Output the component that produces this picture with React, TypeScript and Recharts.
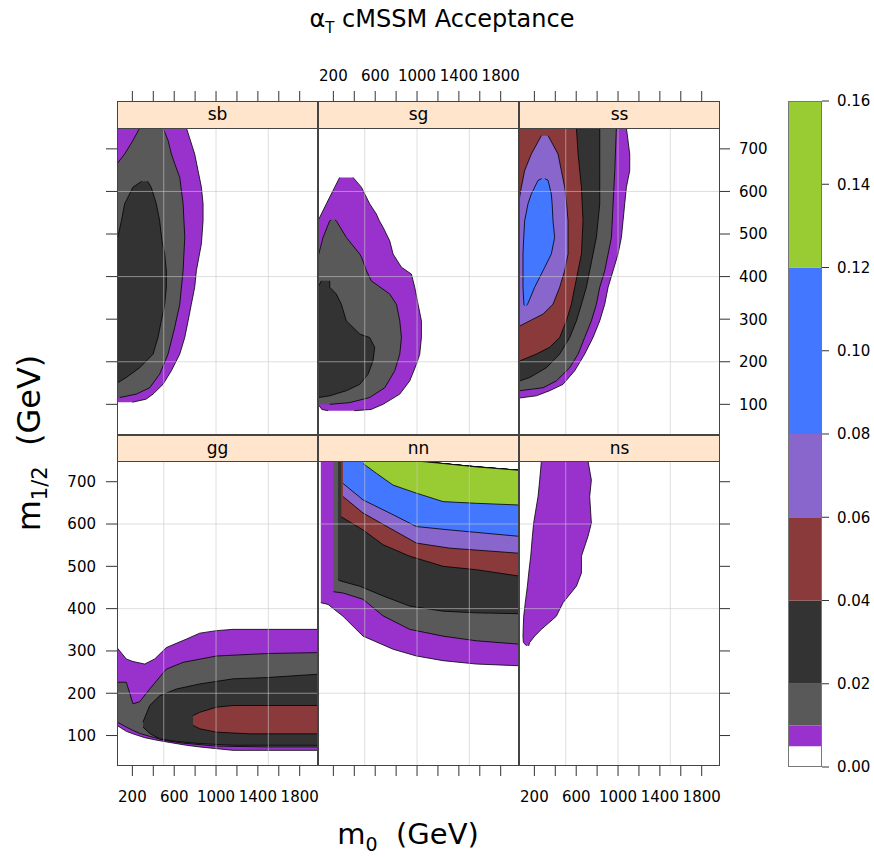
import React from "react";
import {
  ComposedChart,
  Area,
  XAxis,
  YAxis,
  ReferenceLine,
  BarChart,
  Bar,
} from "recharts";

const FONT = "'DejaVu Sans', sans-serif";

// colour key: level breaks and the fill used between them
const levelBreaks = [0, 0.005, 0.01, 0.02, 0.04, 0.06, 0.08, 0.12, 0.16];
const levelColors = ["#ffffff", "#9932cc", "#595959", "#333333", "#8a3a3a", "#8866cc", "#4477ff", "#99cc33"];
const levelKeys = ["L005", "L01", "L02", "L04", "L06", "L08", "L12"];
const keyTicks = [0, 0.02, 0.04, 0.06, 0.08, 0.1, 0.12, 0.14, 0.16];

// axes (m0 and m1/2 in GeV)
const xTicks = [200, 400, 600, 800, 1000, 1200, 1400, 1600, 1800];
const xLabelled = [200, 600, 1000, 1400, 1800];
const yTicks = [100, 200, 300, 400, 500, 600, 700];
const gridX = [500, 1000, 1500];
const gridY = [200, 400, 600];
const xDomain = [53, 1975];
const yDomain = [28, 749];

// contour bands.
// "vertical" panels: [m1/2, m0 low, m0 high]; "horizontal" panels: [m0, m1/2 low, m1/2 high]
const sbL005 = [[105, 53, 200], [112, 53, 330], [124, 53, 398], [147, 53, 493], [179, 53, 573], [218, 53, 653], [257, 53, 701], [296, 53, 733], [335, 53, 764], [375, 53, 796], [414, 53, 812], [477, 53, 860], [531, 53, 876], [571, 53, 876], [610, 53, 860], [649, 53, 828], [688, 53, 796], [749, 53, 717]];
const sbL01 = [[116, 53, 79], [124, 53, 238], [139, 53, 366], [171, 53, 461], [218, 53, 541], [281, 53, 605], [335, 53, 653], [414, 53, 685], [492, 53, 701], [571, 53, 685], [633, 53, 653], [665, 53, 605], [688, 126, 573], [720, 206, 541], [749, 270, 493]];
const sbL02 = [[151, 53, 60], [163, 53, 142], [186, 53, 270], [218, 53, 398], [257, 53, 445], [296, 53, 477], [335, 53, 509], [375, 53, 525], [414, 53, 525], [453, 53, 509], [484, 53, 483], [531, 95, 461], [571, 126, 429], [610, 206, 380], [624, 290, 345]];

const sgL005 = [[85, 150, 400], [88, 90, 560], [100, 53, 675], [124, 53, 835], [155, 53, 930], [194, 53, 994], [218, 53, 1026], [257, 53, 1042], [296, 53, 1042], [335, 53, 1010], [375, 53, 978], [406, 53, 946], [422, 53, 851], [453, 53, 771], [484, 53, 739], [516, 53, 675], [531, 53, 640], [547, 85, 611], [571, 133, 547], [610, 213, 468], [633, 260, 388]];
const sgL01 = [[100, 53, 165], [104, 53, 356], [116, 53, 547], [139, 53, 691], [179, 53, 787], [218, 53, 835], [257, 53, 851], [296, 53, 835], [335, 53, 803], [359, 53, 739], [390, 53, 563], [414, 53, 516], [445, 53, 470], [453, 60, 452], [492, 101, 324], [531, 165, 228], [533, 180, 215]];
const sgL02 = [[116, 53, 60], [120, 53, 165], [132, 53, 324], [147, 53, 452], [171, 53, 532], [202, 53, 579], [234, 53, 595], [257, 53, 547], [265, 53, 452], [296, 53, 324], [335, 53, 276], [359, 53, 228], [375, 53, 165], [390, 85, 165]];

const ssL005 = [[115, 53, 60], [120, 53, 219], [132, 53, 346], [147, 53, 474], [179, 53, 586], [218, 53, 681], [257, 53, 761], [296, 53, 825], [335, 53, 873], [375, 53, 905], [414, 53, 953], [453, 53, 1000], [492, 53, 1032], [531, 53, 1048], [571, 53, 1064], [610, 53, 1080], [649, 53, 1112], [688, 53, 1112], [749, 53, 1080]];
const ssL01 = [[132, 53, 60], [139, 53, 283], [155, 53, 410], [186, 53, 538], [218, 53, 618], [257, 53, 681], [296, 53, 745], [335, 53, 793], [375, 53, 825], [414, 53, 873], [453, 53, 905], [492, 53, 937], [571, 53, 953], [649, 53, 969], [749, 53, 984]];
const ssL02 = [[155, 53, 60], [163, 53, 155], [186, 53, 315], [218, 53, 442], [257, 53, 538], [296, 53, 602], [335, 53, 650], [375, 53, 697], [414, 53, 729], [453, 53, 761], [492, 53, 793], [571, 53, 825], [649, 53, 825], [749, 53, 825]];
const ssL04 = [[202, 53, 60], [218, 53, 219], [234, 53, 346], [257, 53, 442], [296, 53, 506], [335, 53, 554], [375, 53, 586], [414, 53, 618], [453, 53, 650], [531, 53, 665], [610, 53, 650], [688, 53, 618], [749, 53, 602]];
const ssL06 = [[284, 53, 60], [296, 53, 155], [312, 53, 283], [335, 53, 378], [375, 53, 442], [414, 53, 490], [453, 53, 522], [531, 53, 522], [578, 53, 506], [610, 75, 490], [649, 107, 458], [688, 171, 426], [731, 267, 331]];
const ssL08 = [[332, 105, 125], [335, 100, 135], [375, 91, 203], [414, 91, 283], [453, 91, 362], [492, 98, 394], [531, 107, 378], [571, 139, 370], [594, 171, 362], [626, 235, 331], [630, 270, 300]];

const ggL005 = [[53, 124, 308], [142, 110, 281], [206, 104, 275], [318, 95, 269], [413, 90, 281], [525, 85, 308], [717, 77, 328], [844, 73, 342], [1004, 69, 348], [1163, 65, 351], [1500, 65, 351], [1975, 65, 351]];
const ggL01 = [[53, 132, 226], [142, 120, 226], [206, 112, 175], [270, 105, 180], [366, 98, 210], [525, 88, 257], [685, 82, 273], [1004, 75, 288], [1500, 73, 294], [1975, 73, 296]];
const ggL02 = [[302, 120, 132], [366, 105, 171], [461, 92, 194], [621, 86, 210], [844, 81, 222], [1163, 77, 234], [1482, 77, 237], [1975, 77, 245]];
const ggL04 = [[780, 124, 147], [844, 116, 155], [1004, 108, 167], [1163, 106, 171], [1323, 104, 171], [1975, 104, 171]];

const nnL005 = [[80, 414, 749], [149, 410, 749], [292, 382, 749], [484, 335, 749], [771, 304, 749], [994, 288, 749], [1249, 277, 743], [1568, 269, 735], [1975, 265, 727]];
const nnL01 = [[200, 440, 749], [292, 437, 749], [484, 422, 749], [675, 383, 749], [930, 351, 749], [1249, 335, 743], [1568, 324, 735], [1975, 316, 727]];
const nnL02 = [[244, 469, 749], [260, 466, 749], [452, 453, 749], [675, 430, 749], [930, 406, 749], [1249, 394, 743], [1568, 390, 735], [1975, 388, 727]];
const nnL04 = [[276, 617, 749], [484, 586, 749], [675, 551, 749], [930, 524, 749], [1249, 500, 743], [1568, 492, 735], [1975, 477, 727]];
const nnL06 = [[292, 665, 749], [484, 626, 749], [771, 586, 749], [994, 555, 749], [1313, 543, 741], [1975, 531, 727]];
const nnL08 = [[292, 696, 749], [484, 657, 749], [771, 622, 749], [994, 594, 749], [1313, 586, 741], [1975, 571, 727]];
const nnL12 = [[484, 743, 749], [611, 720, 749], [771, 692, 749], [994, 673, 749], [1249, 653, 743], [1568, 649, 735], [1975, 645, 727]];

const nsL005 = [[312, 125, 145], [320, 95, 155], [335, 91, 203], [351, 93, 267], [382, 98, 410], [414, 113, 474], [453, 133, 602], [484, 146, 650], [524, 165, 650], [571, 181, 713], [602, 193, 745], [665, 235, 729], [704, 251, 745], [749, 267, 713]];

type Levels = Record<string, number[][]>;
interface PanelDef {
  name: string;
  row: number;
  col: number;
  layout: "horizontal" | "vertical";
  levels: Levels;
}

const panels: PanelDef[] = [
  { name: "sb", row: 0, col: 0, layout: "vertical", levels: { L005: sbL005, L01: sbL01, L02: sbL02 } },
  { name: "sg", row: 0, col: 1, layout: "vertical", levels: { L005: sgL005, L01: sgL01, L02: sgL02 } },
  { name: "ss", row: 0, col: 2, layout: "vertical", levels: { L005: ssL005, L01: ssL01, L02: ssL02, L04: ssL04, L06: ssL06, L08: ssL08 } },
  { name: "gg", row: 1, col: 0, layout: "horizontal", levels: { L005: ggL005, L01: ggL01, L02: ggL02, L04: ggL04 } },
  { name: "nn", row: 1, col: 1, layout: "horizontal", levels: { L005: nnL005, L01: nnL01, L02: nnL02, L04: nnL04, L06: nnL06, L08: nnL08, L12: nnL12 } },
  { name: "ns", row: 1, col: 2, layout: "vertical", levels: { L005: nsL005 } },
];

// page layout of the 3x2 panels
const colLeft = [117, 318, 519];
const panelW = 201;
const rowTop = [128, 461];
const rowH = [307, 305];
const stripH = [27, 26];
const AX = 70;
const AY = 50;

const tickStyle = { fill: "#000", fontSize: 15, fontFamily: FONT };

// merge the bands of one panel into rows keyed on the independent variable
function buildRows(levels: Levels, key: string) {
  const keys = Array.from(
    new Set(Object.values(levels).flatMap((pts) => pts.map((p) => p[0])))
  ).sort((a, b) => a - b);
  return keys.map((k) => {
    const row: any = { [key]: k };
    Object.entries(levels).forEach(([name, pts]) => {
      const p = pts.find((q) => q[0] === k);
      row[name] = p ? [p[1], p[2]] : [null, null];
    });
    return row;
  });
}

function TopTick(props: any) {
  const { x, y, payload, labelled } = props;
  const base = y - 27;
  return (
    <g>
      <line x1={x} x2={x} y1={base} y2={base - 10} stroke="#333" />
      {labelled && xLabelled.includes(payload.value) && (
        <text x={x} y={base - 20} textAnchor="middle" {...tickStyle}>
          {payload.value}
        </text>
      )}
    </g>
  );
}

function Panel({ p }: { p: PanelDef }) {
  const vertical = p.layout === "vertical";
  const rows = buildRows(p.levels, vertical ? "y" : "x");
  const L = colLeft[p.col];
  const T = rowTop[p.row];
  const H = rowH[p.row];
  const showLeft = p.col === 0;
  const showRight = p.col === 2;
  const offL = 2 + (showLeft ? AY : 0);
  const offR = 2 + (showRight ? AY : 0);
  const offT = 2 + (p.row === 0 ? AX : 0);
  const offB = 2 + (p.row === 1 ? AX : 0);

  return (
    <div style={{ position: "absolute", left: L - offL, top: T - offT }}>
      <ComposedChart
        width={panelW + offL + offR}
        height={H + offT + offB}
        data={rows}
        layout={p.layout}
        margin={{ top: 2, right: 2, bottom: 2, left: 2 }}
      >
        {p.row === 0 ? (
          <XAxis
            type="number"
            dataKey={vertical ? undefined : "x"}
            domain={xDomain}
            ticks={xTicks}
            interval={0}
            allowDataOverflow
            orientation="top"
            height={AX}
            axisLine={false}
            tickLine={false}
            tickSize={0}
            tickMargin={0}
            tick={(tp: any) => <TopTick {...tp} labelled={p.col === 1} />}
          />
        ) : (
          <XAxis
            type="number"
            dataKey={vertical ? undefined : "x"}
            domain={xDomain}
            ticks={xTicks}
            interval={0}
            allowDataOverflow
            orientation="bottom"
            height={AX}
            axisLine={false}
            tickLine={{ stroke: "#333" }}
            tickSize={10}
            tickMargin={15}
            tick={tickStyle}
            tickFormatter={(v: number) =>
              p.col !== 1 && xLabelled.includes(v) ? String(v) : ""
            }
          />
        )}
        <YAxis
          type="number"
          dataKey={vertical ? "y" : undefined}
          domain={yDomain}
          ticks={yTicks}
          interval={0}
          allowDataOverflow
          reversed={vertical}
          orientation={showRight ? "right" : "left"}
          hide={!showLeft && !showRight}
          width={AY}
          axisLine={false}
          tickLine={{ stroke: "#333" }}
          tickSize={showRight ? 10 : 11}
          tickMargin={showRight ? 9 : 10}
          tick={tickStyle}
          tickFormatter={(v: number) =>
            (showLeft && p.row === 1) || (showRight && p.row === 0) ? String(v) : ""
          }
        />
        {levelKeys
          .filter((k) => p.levels[k])
          .map((k) => (
            <Area
              key={k}
              dataKey={k}
              type="linear"
              fill={levelColors[levelKeys.indexOf(k) + 1]}
              fillOpacity={1}
              stroke="#000"
              strokeWidth={0.8}
              connectNulls
              dot={false}
              activeDot={false}
              isAnimationActive={false}
            />
          ))}
        {gridX.map((v) => (
          <ReferenceLine key={"gx" + v} x={v} stroke="#c8c8c8" strokeOpacity={0.6} />
        ))}
        {gridY.map((v) => (
          <ReferenceLine key={"gy" + v} y={v} stroke="#c8c8c8" strokeOpacity={0.6} />
        ))}
      </ComposedChart>
      <div
        style={{
          position: "absolute",
          left: offL,
          top: offT,
          width: panelW,
          height: H,
          border: "1px solid #444",
          boxSizing: "border-box",
          pointerEvents: "none",
        }}
      />
      <div
        style={{
          position: "absolute",
          left: offL,
          top: offT - stripH[p.row],
          width: panelW,
          height: stripH[p.row] + 1,
          border: "1px solid #444",
          boxSizing: "border-box",
          background: "#ffe5cc",
          fontFamily: FONT,
          fontSize: 17,
          lineHeight: `${stripH[p.row] - 2}px`,
          textAlign: "center",
          color: "#000",
        }}
      >
        {p.name}
      </div>
    </div>
  );
}

function ColorKey() {
  const keyRow: any = { k: "key" };
  levelColors.forEach((_, i) => {
    keyRow["b" + i] = levelBreaks[i + 1] - levelBreaks[i];
  });
  const left = 788;
  const top = 101;
  const w = 34;
  const h = 666;
  return (
    <div style={{ position: "absolute", left: left - 2, top: top - 10 }}>
      <BarChart
        width={w + 4 + 60}
        height={h + 20}
        data={[keyRow]}
        margin={{ top: 10, right: 2, bottom: 10, left: 2 }}
        barCategoryGap={0}
        barGap={0}
      >
        <XAxis dataKey="k" hide />
        <YAxis
          type="number"
          orientation="right"
          domain={[0, 0.16]}
          ticks={keyTicks}
          interval={0}
          allowDataOverflow
          width={60}
          axisLine={false}
          tickLine={{ stroke: "#333" }}
          tickSize={7}
          tickMargin={8}
          tick={tickStyle}
          tickFormatter={(v: number) => v.toFixed(2)}
        />
        {levelColors.map((c, i) => (
          <Bar key={i} dataKey={"b" + i} stackId="k" fill={c} isAnimationActive={false} />
        ))}
      </BarChart>
      <div
        style={{
          position: "absolute",
          left: 2,
          top: 10,
          width: w,
          height: h,
          border: "1px solid #777",
          boxSizing: "border-box",
        }}
      />
    </div>
  );
}

export default function App() {
  return (
    <div
      style={{
        position: "absolute",
        left: 0,
        top: 0,
        width: 874,
        height: 857,
        background: "#fff",
        fontFamily: FONT,
        color: "#000",
      }}
    >
      <div
        style={{
          position: "absolute",
          left: 5,
          top: 5,
          width: 874,
          textAlign: "center",
          fontSize: 24,
        }}
      >
        α<sub style={{ fontSize: 15 }}>T</sub> cMSSM Acceptance
      </div>
      {panels.map((p) => (
        <Panel key={p.name} p={p} />
      ))}
      <ColorKey />
      <div
        style={{
          position: "absolute",
          left: 31,
          top: 443,
          transform: "translate(-50%, -50%) rotate(-90deg)",
          whiteSpace: "nowrap",
          fontSize: 32,
        }}
      >
        m<sub style={{ fontSize: 21 }}>1/2</sub>&nbsp;&nbsp;(GeV)
      </div>
      <div
        style={{
          position: "absolute",
          left: 408,
          top: 836,
          transform: "translate(-50%, -50%)",
          whiteSpace: "nowrap",
          fontSize: 29,
        }}
      >
        m<sub style={{ fontSize: 19 }}>0</sub>&nbsp;&nbsp;(GeV)
      </div>
    </div>
  );
}
